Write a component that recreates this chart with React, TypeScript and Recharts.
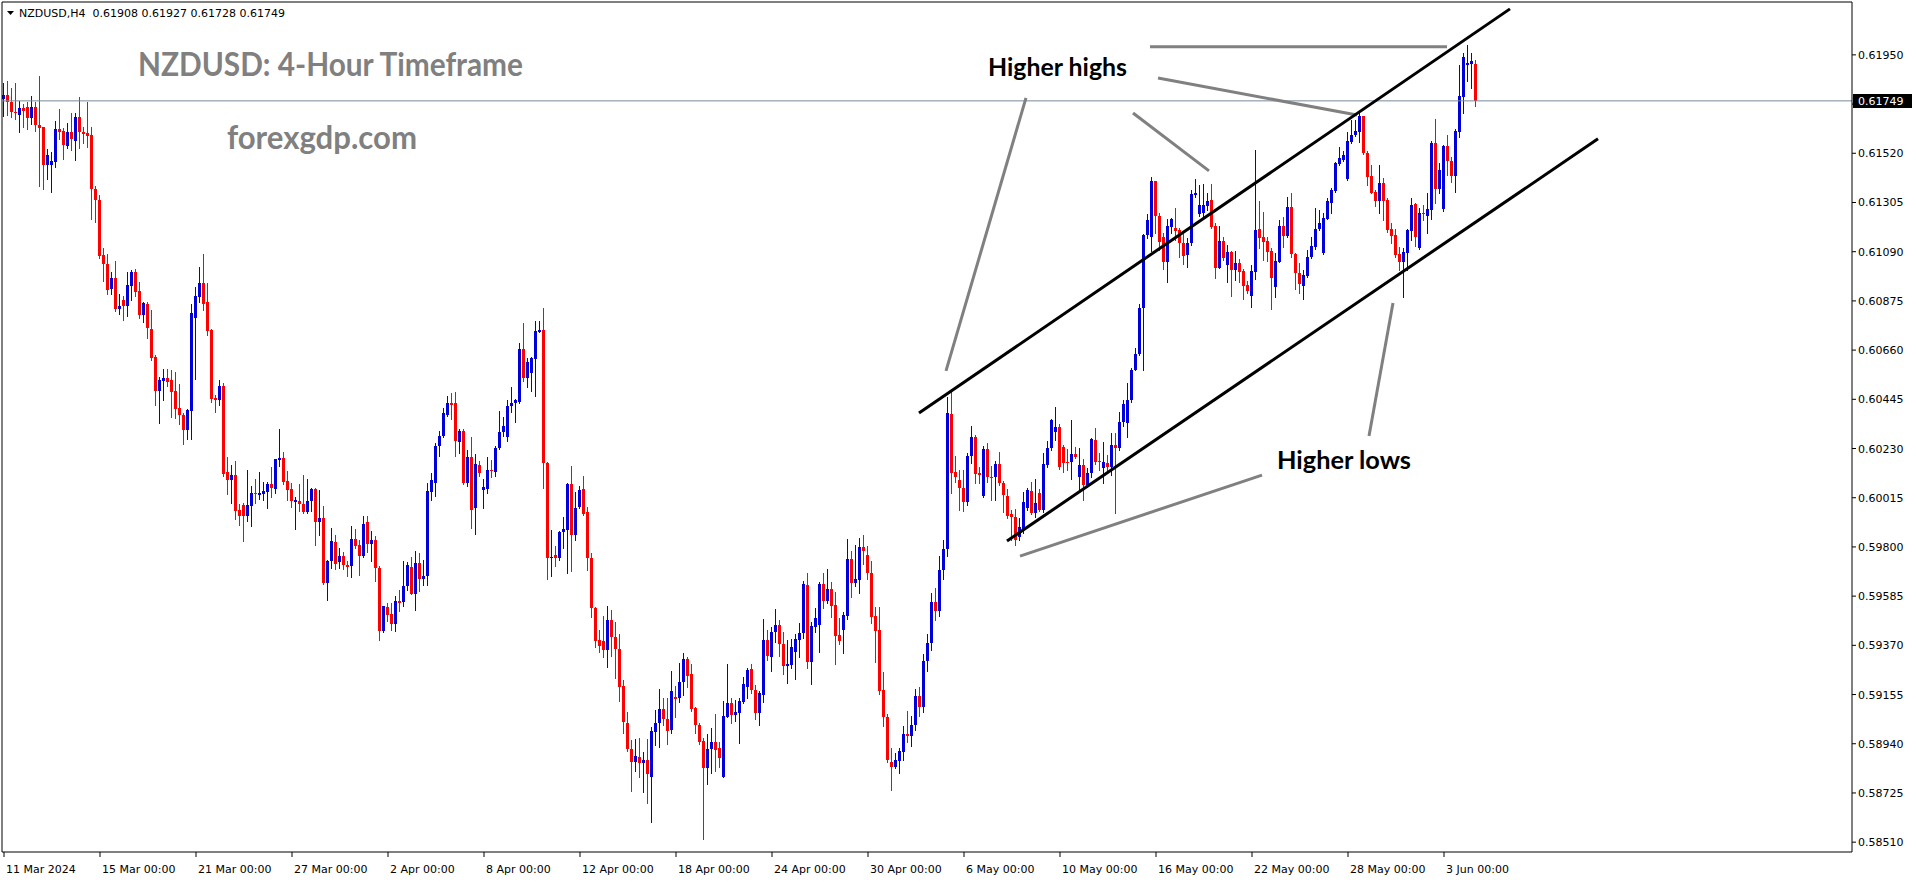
import React from 'react'
import { ComposedChart, Bar, XAxis, YAxis, ReferenceLine } from 'recharts'

// NZDUSD H4 candles, [open, high, low, close] in 1e-5 units
const bars: number[][] = [
  // 11 - 15 Mar
  [61758, 61828, 61685, 61774], [61774, 61836, 61689, 61742], [61742, 61807, 61677, 61702], [61702, 61828, 61669, 61694],
  [61689, 61747, 61611, 61718], [61718, 61737, 61637, 61706], [61723, 61742, 61624, 61674], [61674, 61771, 61650, 61723],
  [61723, 61742, 61618, 61642], [61642, 61858, 61378, 61632], [61634, 61637, 61362, 61470], [61470, 61538, 61407, 61512],
  [61470, 61524, 61352, 61487], [61483, 61661, 61459, 61626], [61626, 61715, 61584, 61614], [61618, 61629, 61495, 61554],
  [61551, 61653, 61545, 61613], [61613, 61697, 61535, 61584], [61574, 61697, 61491, 61679], [61679, 61766, 61545, 61611],
  [61611, 61637, 61564, 61605], [61610, 61744, 61548, 61597], [61600, 61635, 61233, 61362], [61362, 61377, 61221, 61314],
  [61317, 61338, 61063, 61071], [61076, 61107, 60963, 61035], [61035, 61079, 60906, 60922], [60925, 61003, 60906, 60976],
  [60976, 61050, 60832, 60841], [60841, 60906, 60816, 60853],
  // 18 - 22 Mar
  [60877, 60898, 60793, 60853], [60853, 61001, 60808, 60945], [60942, 61010, 60877, 61001], [61001, 61014, 60898, 60914],
  [60919, 60958, 60799, 60812], [60812, 60869, 60783, 60866], [60861, 60869, 60712, 60756], [60752, 60835, 60618, 60626],
  [60630, 60638, 60419, 60481], [60481, 60542, 60343, 60529], [60526, 60578, 60440, 60537], [60537, 60576, 60505, 60521],
  [60528, 60573, 60368, 60476], [60481, 60566, 60363, 60403], [60405, 60512, 60335, 60376], [60376, 60384, 60251, 60311],
  [60311, 60403, 60271, 60400], [60395, 60861, 60271, 60820], [60801, 60937, 60534, 60896], [60893, 61022, 60869, 60953],
  [60953, 61079, 60836, 60861], [60870, 60953, 60728, 60743], [60748, 60751, 60432, 60448], [60452, 60465, 60390, 60444],
  [60440, 60529, 60421, 60505], [60505, 60516, 60109, 60117], [60128, 60193, 60033, 60093], [60093, 60157, 59993, 60114],
  [60114, 60174, 59923, 59958], [59960, 59988, 59894, 59934],
  // 25 - 29 Mar
  [59983, 59991, 59826, 59934], [59934, 60136, 59915, 59983], [59980, 60065, 59891, 60036], [60036, 60096, 59993, 60033],
  [60028, 60128, 60009, 60036], [60033, 60085, 60004, 60044], [60041, 60085, 59972, 60077], [60073, 60149, 60020, 60057],
  [60052, 60185, 60036, 60182], [60179, 60314, 60153, 60190], [60190, 60214, 60077, 60085], [60088, 60133, 60004, 60049],
  [60054, 60081, 59976, 60000], [59997, 60016, 59878, 60003], [60000, 60076, 59959, 59987], [59987, 60114, 59948, 59954],
  [59954, 60098, 59948, 60000], [60000, 60057, 59959, 60054], [60054, 60057, 59810, 59911], [59911, 60049, 59854, 59927],
  [59927, 59979, 59637, 59642], [59642, 59743, 59569, 59740], [59740, 59883, 59710, 59824], [59821, 59850, 59704, 59727],
  [59732, 59795, 59710, 59759], [59759, 59779, 59704, 59720],
  // 1 - 5 Apr
  [59720, 59740, 59675, 59714], [59717, 59893, 59670, 59834], [59834, 59878, 59797, 59805], [59808, 59829, 59678, 59762],
  [59762, 59935, 59756, 59902], [59907, 59935, 59776, 59813], [59813, 59870, 59740, 59832], [59832, 59849, 59650, 59710],
  [59710, 59715, 59395, 59434], [59434, 59544, 59430, 59541], [59539, 59553, 59476, 59504], [59507, 59553, 59439, 59465],
  [59465, 59585, 59434, 59564], [59564, 59613, 59520, 59553], [59561, 59740, 59544, 59629], [59629, 59736, 59610, 59720],
  [59712, 59756, 59593, 59596], [59596, 59784, 59525, 59730], [59730, 59772, 59606, 59658], [59658, 59743, 59634, 59675],
  [59675, 60081, 59634, 60044], [60041, 60122, 60007, 60094], [60081, 60252, 60024, 60241], [60241, 60306, 60199, 60285],
  [60285, 60407, 60280, 60383], [60378, 60459, 60374, 60427], [60427, 60472, 60358, 60420], [60427, 60477, 60199, 60264],
  [60257, 60317, 60212, 60306], [60306, 60317, 60073, 60081],
  // 8 - 12 Apr
  [60081, 60225, 60065, 60192], [60192, 60280, 59883, 59963], [59968, 60208, 59858, 60163], [60158, 60176, 60109, 60125],
  [60049, 60098, 59972, 60060], [60054, 60191, 60036, 60138], [60138, 60179, 60106, 60130], [60127, 60241, 60111, 60231],
  [60231, 60394, 60228, 60304], [60301, 60366, 60285, 60329], [60280, 60443, 60264, 60415], [60415, 60497, 60391, 60427],
  [60427, 60448, 60345, 60440], [60435, 60692, 60427, 60664], [60664, 60778, 60524, 60540], [60540, 60627, 60497, 60606],
  [60562, 60632, 60480, 60627], [60623, 60786, 60459, 60744], [60741, 60786, 60737, 60749], [60749, 60842, 60057, 60166],
  [60166, 60171, 59662, 59753], [59751, 59873, 59675, 59756], [59764, 59805, 59715, 59753], [59753, 59870, 59743, 59867],
  [59867, 59930, 59797, 59878], [59875, 60081, 59688, 60077], [60077, 60155, 59696, 59854], [59854, 60041, 59829, 59972],
  [59976, 60065, 59968, 60049], [60052, 60109, 59940, 59943],
  // 15 - 19 Apr
  [59951, 59974, 59699, 59751], [59751, 59772, 59492, 59531], [59531, 59536, 59362, 59390], [59395, 59439, 59339, 59369],
  [59390, 59499, 59317, 59349], [59349, 59541, 59276, 59482], [59480, 59524, 59323, 59407], [59407, 59470, 59228, 59352],
  [59356, 59419, 59128, 59189], [59192, 59218, 58985, 59036], [59032, 59078, 58908, 58916], [58919, 58956, 58733, 58861],
  [58861, 58960, 58822, 58886], [58880, 58963, 58795, 58857], [58857, 58902, 58730, 58868], [58868, 58960, 58682, 58807],
  [58796, 59014, 58600, 58997], [58992, 59087, 58934, 59032], [59029, 59179, 58927, 59091], [59091, 59142, 59021, 59050],
  [59050, 59138, 58941, 58997], [59000, 59259, 58988, 59170], [59145, 59192, 59055, 59135], [59138, 59294, 59123, 59211],
  [59208, 59337, 59152, 59310], [59310, 59320, 59186, 59237], [59244, 59288, 59084, 59094], [59097, 59101, 58985, 59024],
  [59024, 59029, 58938, 58948], [58951, 58967, 58525, 58836],
  // 22 - 26 Apr
  [58836, 58982, 58766, 58915], [58915, 59007, 58814, 58948], [58948, 59069, 58822, 58912], [58922, 58948, 58839, 58879],
  [58796, 59126, 58796, 59061], [59058, 59288, 59058, 59120], [59120, 59138, 59029, 59065], [59065, 59131, 59040, 59080],
  [59075, 59138, 58944, 59126], [59123, 59233, 59116, 59200], [59189, 59269, 59138, 59262], [59265, 59288, 59163, 59174],
  [59177, 59196, 59050, 59075], [59075, 59171, 59024, 59160], [59152, 59485, 59123, 59393], [59393, 59437, 59308, 59323],
  [59320, 59451, 59259, 59429], [59429, 59528, 59386, 59457], [59457, 59480, 59323, 59378], [59378, 59428, 59244, 59279],
  [59279, 59393, 59206, 59288], [59284, 59397, 59269, 59361], [59342, 59419, 59224, 59397], [59393, 59466, 59320, 59426],
  [59426, 59651, 59400, 59638], [59633, 59688, 59273, 59298], [59298, 59470, 59200, 59454], [59451, 59531, 59429, 59490],
  [59458, 59648, 59342, 59638], [59640, 59688, 59534, 59565],
  // 29 Apr - 3 May
  [59565, 59703, 59553, 59614], [59614, 59646, 59495, 59543], [59546, 59603, 59288, 59410], [59415, 59490, 59378, 59390],
  [59439, 59514, 59337, 59501], [59498, 59834, 59483, 59747], [59747, 59782, 59582, 59643], [59643, 59808, 59630, 59658],
  [59655, 59837, 59600, 59798], [59798, 59852, 59725, 59782], [59764, 59804, 59659, 59687], [59688, 59738, 59469, 59495],
  [59498, 59536, 59298, 59434], [59437, 59538, 59157, 59170], [59174, 59253, 59017, 59055], [59055, 59069, 58861, 58868],
  [58861, 58922, 58740, 58839], [58839, 58900, 58836, 58868], [58865, 58922, 58813, 58908], [58905, 59018, 58868, 58982],
  [58982, 59084, 58949, 58973], [58973, 59060, 58930, 59020], [59020, 59180, 59000, 59150], [59150, 59190, 59060, 59100],
  [59100, 59330, 59080, 59300], [59300, 59420, 59260, 59380], [59380, 59600, 59350, 59560], [59560, 59620, 59480, 59520],
  [59520, 59760, 59500, 59700], [59700, 59830, 59660, 59790],
  // 6 - 10 May
  [59790, 60457, 59760, 60384], [60381, 60486, 60035, 60122], [60129, 60198, 60085, 60107], [60093, 60137, 59962, 60056],
  [60056, 60137, 59959, 59998], [59998, 60212, 59983, 60198], [60198, 60329, 60166, 60279], [60279, 60289, 60081, 60119],
  [60125, 60151, 60081, 60115], [60023, 60241, 60020, 60227], [60227, 60253, 60085, 60104], [60107, 60154, 60005, 60104],
  [60104, 60177, 60005, 60163], [60163, 60214, 60071, 60081], [60081, 60090, 59954, 60027], [60023, 60052, 59925, 59935],
  [59944, 59962, 59831, 59930], [59930, 59965, 59810, 59831], [59845, 59925, 59830, 59886], [59874, 60042, 59860, 59998],
  [59969, 60056, 59962, 60049], [60046, 60085, 59944, 59947], [59947, 60096, 59932, 59994], [60035, 60052, 59959, 59962],
  [59962, 60212, 59954, 60163], [60158, 60265, 60151, 60231], [60231, 60358, 60224, 60355], [60300, 60413, 60268, 60326],
  [60326, 60337, 60139, 60151], [60236, 60246, 60129, 60166],
  // 13 - 17 May
  [60173, 60227, 60137, 60168], [60173, 60355, 60096, 60206], [60206, 60238, 60187, 60192], [60107, 60234, 60049, 60158],
  [60158, 60183, 60005, 60071], [60071, 60144, 60064, 60122], [60122, 60275, 60104, 60271], [60268, 60319, 60163, 60173],
  [60177, 60209, 60137, 60173], [60144, 60260, 60078, 60173], [60166, 60202, 60122, 60151], [60151, 60297, 60115, 60246],
  [60246, 60297, 59947, 60231], [60231, 60391, 60224, 60348], [60348, 60440, 60329, 60425], [60343, 60515, 60279, 60442],
  [60442, 60581, 60435, 60573], [60573, 60671, 60571, 60642], [60642, 60860, 60639, 60846], [60846, 61168, 60573, 61163],
  [61163, 61254, 61149, 61229], [61156, 61415, 61091, 61397], [61397, 61397, 61171, 61244], [61244, 61261, 61098, 61134],
  [61153, 61171, 61015, 61047], [61047, 61232, 60959, 61203], [61200, 61236, 61171, 61232], [61193, 61280, 61142, 61182],
  [61185, 61193, 61066, 61127], [61127, 61168, 61037, 61072],
  // 20 - 24 May
  [61076, 61149, 61021, 61127], [61127, 61360, 61120, 61343], [61338, 61407, 61331, 61348], [61255, 61382, 61244, 61295],
  [61258, 61385, 61243, 61294], [61290, 61345, 61272, 61313], [61316, 61385, 61192, 61200], [61202, 61214, 60974, 61020],
  [61020, 61202, 61017, 61138], [61138, 61156, 61054, 61061], [61032, 61119, 60959, 61090], [61090, 61095, 60897, 61010],
  [61010, 61095, 60967, 61039], [61039, 61057, 60959, 61003], [61007, 61013, 60882, 60940], [60945, 60964, 60908, 60920],
  [60898, 61032, 60847, 61006], [61000, 61535, 60969, 61185], [61188, 61312, 61105, 61149], [61156, 61265, 61054, 61131],
  [61138, 61156, 61051, 61090], [61095, 61105, 60838, 60974], [60937, 61083, 60894, 61051], [61047, 61229, 61047, 61202],
  [61202, 61243, 61112, 61159], [61159, 61331, 61153, 61287], [61287, 61348, 61068, 61079], [61080, 61086, 60927, 60999],
  [60999, 61039, 60908, 60949], [60942, 61010, 60882, 60988],
  // 27 - 31 May
  [60985, 61098, 60981, 61066], [61066, 61153, 61063, 61115], [61112, 61280, 61102, 61189], [61188, 61272, 61185, 61217],
  [61083, 61258, 61079, 61239], [61232, 61323, 61232, 61313], [61304, 61367, 61258, 61360], [61355, 61484, 61352, 61479],
  [61473, 61546, 61469, 61498], [61491, 61532, 61487, 61513], [61406, 61615, 61404, 61574], [61571, 61666, 61564, 61600],
  [61600, 61666, 61596, 61618], [61615, 61698, 61571, 61683], [61683, 61683, 61517, 61523], [61523, 61530, 61382, 61418],
  [61421, 61469, 61345, 61348], [61352, 61360, 61290, 61313], [61313, 61469, 61258, 61392], [61392, 61411, 61229, 61313],
  [61316, 61323, 61178, 61185], [61188, 61214, 61127, 61160], [61163, 61188, 61068, 61076], [61079, 61112, 61010, 61047],
  [61047, 61105, 60894, 61090], [61086, 61188, 61010, 61185], [61182, 61323, 61141, 61294], [61299, 61304, 61115, 61156],
  [61105, 61280, 61100, 61261], [61261, 61294, 61229, 61253],
  // 3 - 4 Jun
  [61246, 61345, 61170, 61277], [61272, 61574, 61232, 61567], [61567, 61670, 61304, 61364], [61364, 61476, 61345, 61447],
  [61275, 61556, 61268, 61552], [61552, 61600, 61425, 61488], [61488, 61505, 61396, 61422], [61422, 61625, 61352, 61619],
  [61615, 61906, 61590, 61771], [61768, 61960, 61698, 61940], [61906, 61993, 61838, 61913], [61909, 61960, 61804, 61924],
  [61908, 61927, 61728, 61749],
]

const timeTicks = [0, 24, 48, 72, 96, 120, 144, 168, 192, 216, 240, 264, 288, 312, 336, 360]
const timeLabels = [
  '11 Mar 2024', '15 Mar 00:00', '21 Mar 00:00', '27 Mar 00:00', '2 Apr 00:00', '8 Apr 00:00',
  '12 Apr 00:00', '18 Apr 00:00', '24 Apr 00:00', '30 Apr 00:00', '6 May 00:00', '10 May 00:00',
  '16 May 00:00', '22 May 00:00', '28 May 00:00', '3 Jun 00:00',
]
const priceTicks = [
  0.6195, 0.61735, 0.6152, 0.61305, 0.6109, 0.60875, 0.6066, 0.60445, 0.6023,
  0.60015, 0.598, 0.59585, 0.5937, 0.59155, 0.5894, 0.58725, 0.5851,
]
// tick whose label sits under the current-price tag
const hiddenTick = 0.61735
const priceMin = 0.58467
const priceMax = 0.62181
const lastPrice = 0.61749
const headerText = 'NZDUSD,H4  0.61908 0.61927 0.61728 0.61749'

// channel lines, [barIndex, price] pairs
const channelLines = [
  [[228.75, 0.60385], [376.5, 0.62151]],
  [[250.75, 0.59826], [398.5, 0.61583]],
]
// grey pointer lines of the annotations
const pointerLines = [
  [[255.5, 0.61762], [235.5, 0.60569]],
  [[282.25, 0.61696], [301.25, 0.61443]],
  [[288.5, 0.61849], [338.25, 0.61687]],
  [[286.5, 0.61985], [360.75, 0.61985]],
  [[341.25, 0.60285], [347.25, 0.60866]],
  [[314.5, 0.60114], [254, 0.5976]],
]

const data = bars.map(([o, h, l, c], i) => ({ i, o: o / 1e5, h: h / 1e5, l: l / 1e5, c: c / 1e5 }))

const BULL = '#0000DC'
const BEAR = '#FF0000'
const AXIS_FONT = '"DejaVu Sans", Tahoma, sans-serif'

function Candle(props: any) {
  const { x, y, width, height, payload } = props
  if (x == null || y == null || !payload) return null
  const { o, h, l, c } = payload
  const color = c >= o ? BULL : BEAR
  const yTop = Math.min(y, y + height)
  const yBot = Math.max(y, y + height)
  const span = h - l
  const toY = (v: number) => (span > 0 ? yTop + ((h - v) / span) * (yBot - yTop) : yTop)
  const cx = Math.floor(x + width / 2)
  const bTop = Math.round(toY(Math.max(o, c)))
  const bBot = Math.round(toY(Math.min(o, c)))
  return (
    <g>
      <line x1={cx + 0.5} x2={cx + 0.5} y1={Math.round(yTop)} y2={Math.round(yBot) + 1} stroke={color} strokeWidth={1} />
      <rect x={cx - 1} y={bTop} width={3} height={Math.max(1, bBot - bTop)} fill={color} />
    </g>
  )
}

function PriceTick(props: any) {
  const { x, y, payload } = props
  if (Math.abs(payload.value - hiddenTick) < 1e-7) return null
  return (
    <text x={x} y={y + 4} fontSize={11} fontFamily={AXIS_FONT} fill="#000" textAnchor="start">
      {Number(payload.value).toFixed(5)}
    </text>
  )
}

function TimeTick(props: any) {
  const { x, payload } = props
  const label = timeLabels[timeTicks.indexOf(payload.value)]
  return (
    <text x={x + 2} y={873} fontSize={11} fontFamily={AXIS_FONT} fill="#000" textAnchor="start">
      {label}
    </text>
  )
}

function PriceTag(props: any) {
  const vb = props.viewBox
  if (!vb) return null
  const left = vb.x + vb.width + 1
  return (
    <g>
      <rect x={left} y={Math.round(vb.y) - 7} width={59} height={14} fill="#000" />
      <text x={left + 5} y={Math.round(vb.y) + 4} fontSize={11} fontFamily={AXIS_FONT} fill="#fff">
        {lastPrice.toFixed(5)}
      </text>
    </g>
  )
}

export default function App() {
  return (
    <div style={{ position: 'absolute', left: 0, top: 0, width: 1916, height: 884, background: '#fff', overflow: 'hidden' }}>
      <ComposedChart width={1916} height={884} data={data} margin={{ top: 2, right: 0, bottom: 0, left: 2 }}>
        <XAxis
          dataKey="i"
          type="number"
          domain={[-0.5, 462]}
          allowDataOverflow
          ticks={timeTicks}
          interval={0}
          height={32}
          axisLine={{ stroke: '#000' }}
          tickLine={{ stroke: '#000' }}
          tickSize={5}
          tick={<TimeTick />}
        />
        <YAxis
          orientation="right"
          type="number"
          domain={[priceMin, priceMax]}
          allowDataOverflow
          ticks={priceTicks}
          interval={0}
          width={64}
          axisLine={{ stroke: '#000' }}
          tickLine={{ stroke: '#000' }}
          tickSize={4}
          tick={<PriceTick />}
        />
        <ReferenceLine y={priceMax} stroke="#000" ifOverflow="visible" />
        <ReferenceLine x={-0.5} stroke="#000" ifOverflow="visible" />
        <ReferenceLine y={lastPrice} stroke="#778899" ifOverflow="visible" label={<PriceTag />} />
        <Bar dataKey={(d: any) => [d.l, d.h]} barSize={3} shape={<Candle />} isAnimationActive={false} />
        {pointerLines.map((s, k) => (
          <ReferenceLine
            key={'p' + k}
            segment={[{ x: s[0][0], y: s[0][1] }, { x: s[1][0], y: s[1][1] }]}
            stroke="#808080"
            strokeWidth={3}
            ifOverflow="visible"
          />
        ))}
        {channelLines.map((s, k) => (
          <ReferenceLine
            key={'c' + k}
            segment={[{ x: s[0][0], y: s[0][1] }, { x: s[1][0], y: s[1][1] }]}
            stroke="#000"
            strokeWidth={3}
            ifOverflow="visible"
          />
        ))}
      </ComposedChart>
      <svg width={1916} height={884} style={{ position: 'absolute', left: 0, top: 0, pointerEvents: 'none' }}>
        <polygon points="7,11 14,11 10.5,15" fill="#000" />
        <text x={19} y={17} fontSize={11} fontFamily={AXIS_FONT} fill="#000" xmlSpace="preserve">
          {headerText}
        </text>
        <text x={138} y={63} dominantBaseline="central" fontSize={32} fontWeight={700} fontFamily="Lato, sans-serif"
          fill="#808080" textLength={385} lengthAdjust="spacingAndGlyphs">
          NZDUSD: 4-Hour Timeframe
        </text>
        <text x={227} y={136} dominantBaseline="central" fontSize={32} fontWeight={700} fontFamily="Lato, sans-serif"
          fill="#808080" textLength={190} lengthAdjust="spacingAndGlyphs">
          forexgdp.com
        </text>
        <text x={988} y={66} dominantBaseline="central" fontSize={24} fontWeight={700} fontFamily="Lato, sans-serif"
          fill="#000" textLength={139} lengthAdjust="spacingAndGlyphs">
          Higher highs
        </text>
        <text x={1277} y={459} dominantBaseline="central" fontSize={24} fontWeight={700} fontFamily="Lato, sans-serif"
          fill="#000" textLength={134} lengthAdjust="spacingAndGlyphs">
          Higher lows
        </text>
      </svg>
    </div>
  )
}
